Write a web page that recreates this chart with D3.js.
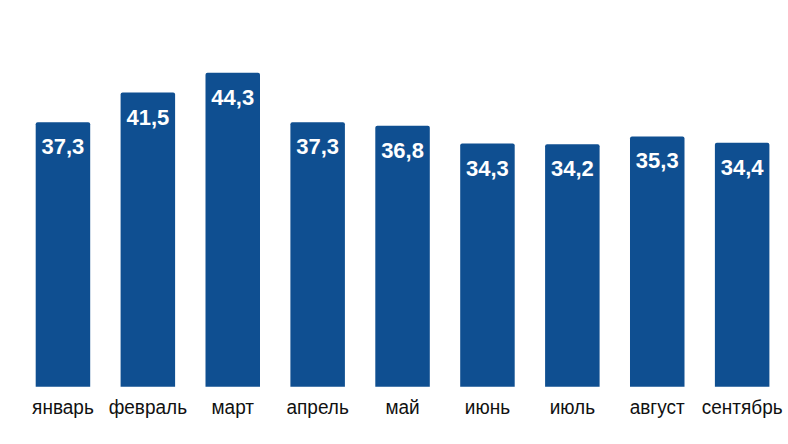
<!DOCTYPE html>
<html><head><meta charset="utf-8">
<script src="https://cdn.jsdelivr.net/npm/d3@7"></script>
<style>html,body{margin:0;padding:0;background:#fff;}svg{display:block;}</style>
</head><body>
<svg id="c" width="788" height="444"></svg>
<script>
const categories = ["январь","февраль","март","апрель","май","июнь","июль","август","сентябрь"];
const values = [37.3, 41.5, 44.3, 37.3, 36.8, 34.3, 34.2, 35.3, 34.4];
const valueLabels = ["37,3","41,5","44,3","37,3","36,8","34,3","34,2","35,3","34,4"];

const svg = d3.select("#c");
const x = d3.scaleBand().domain(categories).range([20.5, 20.5 + 84.9*9]).paddingInner(0.358).paddingOuter(0.179);
const y = d3.scaleLinear().domain([0, 44.3]).range([386.7, 72.7]);

const g = svg.append("g");
g.selectAll("path.bar").data(values).join("path")
  .attr("class","bar")
  .attr("fill","#0f4f91")
  .attr("d",(d,i)=>{
    const x0 = x(categories[i]), w = x.bandwidth(), y0 = y(d), y1 = y(0), r = 2;
    return `M${x0},${y1}V${y0+r}Q${x0},${y0} ${x0+r},${y0}H${x0+w-r}Q${x0+w},${y0} ${x0+w},${y0+r}V${y1}Z`;
  });

g.selectAll("text.val").data(values).join("text")
  .attr("class","val")
  .attr("x",(d,i)=>x(categories[i]) + x.bandwidth()/2)
  .attr("y",d=>y(d) + 32)
  .attr("text-anchor","middle")
  .attr("fill","#fff")
  .attr("font-family","Liberation Sans, Arial, sans-serif")
  .attr("font-weight","bold")
  .attr("font-size","22px")
  .text((d,i)=>valueLabels[i]);

const ax = svg.append("g").attr("transform","translate(0,386.7)")
  .call(d3.axisBottom(x).tickSize(0));
ax.select(".domain").remove();
ax.selectAll("text")
  .attr("y", 27.3/1.08).attr("dy", 0)
  .attr("transform","scale(1,1.08)")
  .attr("fill","#111")
  .attr("font-family","Liberation Sans, Arial, sans-serif")
  .attr("font-size","19px");
</script>
</body></html>
